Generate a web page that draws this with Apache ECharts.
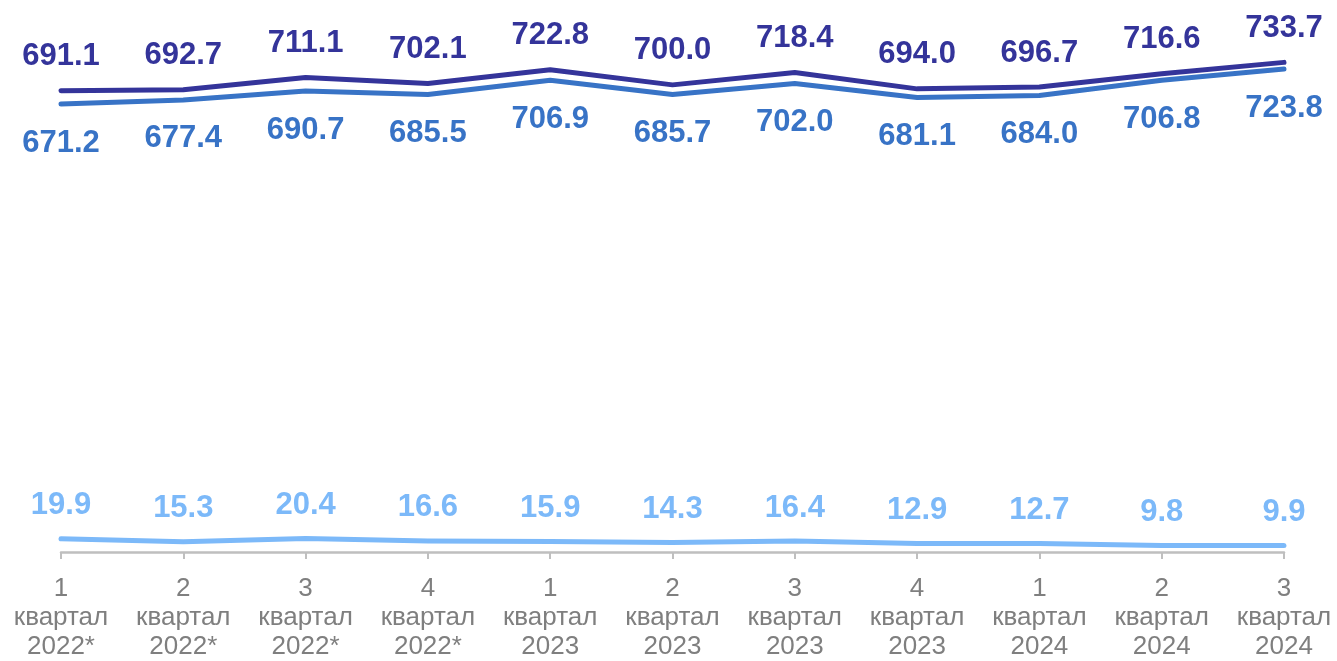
<!DOCTYPE html>
<html>
<head>
<meta charset="utf-8">
<script src="https://cdn.jsdelivr.net/npm/echarts@6/dist/echarts.min.js"></script>
<style>
  html, body { margin: 0; padding: 0; background: #fff; }
  #chart { width: 1337px; height: 661px; }
</style>
</head>
<body>
<div id="chart"></div>
<script>
let quarters = ['1\nквартал\n2022*', '2\nквартал\n2022*', '3\nквартал\n2022*', '4\nквартал\n2022*',
    '1\nквартал\n2023', '2\nквартал\n2023', '3\nквартал\n2023', '4\nквартал\n2023',
    '1\nквартал\n2024', '2\nквартал\n2024', '3\nквартал\n2024'];
let total = [691.1, 692.7, 711.1, 702.1, 722.8, 700.0, 718.4, 694.0, 696.7, 716.6, 733.7];
let middle = [671.2, 677.4, 690.7, 685.5, 706.9, 685.7, 702.0, 681.1, 684.0, 706.8, 723.8];
let bottom = [19.9, 15.3, 20.4, 16.6, 15.9, 14.3, 16.4, 12.9, 12.7, 9.8, 9.9];

let font = '"Liberation Sans", Arial, sans-serif';

function makeLine(data, col, pos, dist) {
    return {
        type: 'line',
        data: data,
        symbol: 'circle',
        symbolSize: 1,
        itemStyle: { color: col },
        lineStyle: { color: col, width: 5, cap: 'round', join: 'round' },
        label: {
            show: true,
            position: pos,
            distance: dist,
            color: col,
            fontSize: 31,
            fontWeight: 'bold',
            fontFamily: font,
            formatter: p => p.value.toFixed(1)
        },
        emphasis: { disabled: true },
        animation: false
    };
}

let myChart = echarts.init(document.getElementById('chart'));
myChart.setOption({
    backgroundColor: '#fff',
    grid: { left: 61, right: 53, top: 51.5, bottom: 104 },
    xAxis: {
        type: 'category',
        data: quarters,
        boundaryGap: false,
        axisLine: { lineStyle: { color: '#bfbfbf', width: 2.5 } },
        axisTick: { length: 7, lineStyle: { color: '#bfbfbf', width: 2 } },
        axisLabel: {
            interval: 0,
            margin: 22,
            color: '#7f7f7f',
            fontSize: 26,
            lineHeight: 29,
            fontFamily: font
        }
    },
    yAxis: {
        type: 'value',
        min: 0,
        max: 750,
        show: false,
        splitLine: { show: false }
    },
    series: [
        makeLine(bottom, '#7cb9f9', 'top', 17),
        makeLine(middle, '#3873c6', 'bottom', 23),
        makeLine(total, '#34349a', 'top', 18)
    ]
});
</script>
</body>
</html>
